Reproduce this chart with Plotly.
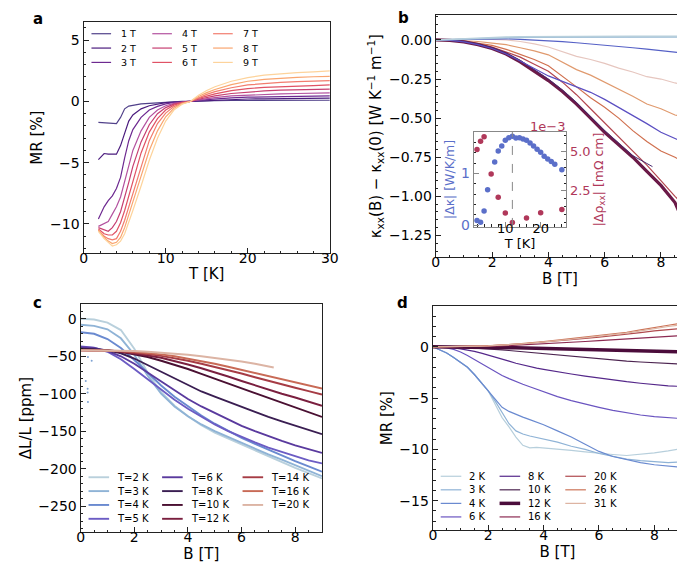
import plotly.graph_objects as go

W, H = 685, 564
FONT = "DejaVu Sans"

# ---------------- panel a : MR vs T for several fields ----------------
a_T = [1.8, 2.5, 3.0, 3.5, 4.0, 4.5, 5.0, 5.5, 6.0, 7.0, 8.0, 9.0, 10.0, 11.0, 12.0,
       13.0, 14.0, 15.0, 16.0, 18.0, 20.0, 22.0, 24.0, 26.0, 28.0, 30.0]
a_labels = ["1 T", "2 T", "3 T", "4 T", "5 T", "6 T", "7 T", "8 T", "9 T"]
a_mr_1T = [-1.7, -1.75, -1.75, -1.8, -1.8, -1.3, -0.6, -0.38, -0.3, -0.2, -0.15, -0.1, -0.05, -0.02, 0.0, 0.0, 0.03, 0.05, 0.06, 0.08, 0.08, 0.1, 0.08, 0.1, 0.1, 0.1]
a_mr_2T = [-4.75, -4.25, -4.3, -4.3, -4.3, -3.6, -2.5, -1.6, -1.1, -0.6, -0.35, -0.2, -0.1, -0.05, -0.02, 0.0, 0.05, 0.1, 0.12, 0.16, 0.2, 0.22, 0.22, 0.25, 0.25, 0.27]
a_mr_3T = [-9.6, -8.6, -8.1, -7.7, -7.1, -6.2, -4.6, -3.2, -2.3, -1.3, -0.7, -0.4, -0.2, -0.08, -0.03, 0.0, 0.08, 0.15, 0.22, 0.3, 0.35, 0.38, 0.4, 0.42, 0.45, 0.45]
a_mr_4T = [-10.2, -10.0, -9.8, -9.2, -8.6, -7.8, -6.6, -5.2, -4.0, -2.4, -1.3, -0.7, -0.35, -0.15, -0.05, 0.0, 0.12, 0.22, 0.32, 0.45, 0.52, 0.58, 0.62, 0.65, 0.68, 0.7]
a_mr_5T = [-10.3, -10.5, -10.6, -10.3, -9.8, -9.0, -7.9, -6.6, -5.3, -3.3, -1.9, -1.0, -0.5, -0.22, -0.08, 0.0, 0.18, 0.32, 0.45, 0.65, 0.78, 0.86, 0.92, 0.96, 1.0, 1.0]
a_mr_6T = [-10.4, -10.8, -10.9, -10.9, -10.6, -9.9, -8.9, -7.7, -6.4, -4.2, -2.5, -1.4, -0.7, -0.3, -0.1, 0.0, 0.25, 0.45, 0.62, 0.88, 1.05, 1.15, 1.22, 1.28, 1.3, 1.35]
a_mr_7T = [-10.5, -11.0, -11.2, -11.3, -11.2, -10.6, -9.7, -8.6, -7.4, -5.2, -3.2, -1.8, -0.95, -0.42, -0.14, 0.0, 0.32, 0.58, 0.8, 1.12, 1.35, 1.48, 1.56, 1.62, 1.66, 1.7]
a_mr_8T = [-10.5, -11.1, -11.4, -11.6, -11.5, -11.1, -10.3, -9.3, -8.2, -6.1, -4.0, -2.4, -1.25, -0.55, -0.18, 0.0, 0.4, 0.72, 0.98, 1.38, 1.65, 1.8, 1.9, 1.97, 2.02, 2.05]
a_mr_9T = [-10.6, -11.2, -11.5, -11.8, -11.7, -11.4, -10.8, -9.9, -8.9, -6.9, -4.8, -3.0, -1.6, -0.7, -0.22, 0.0, 0.5, 0.9, 1.2, 1.65, 1.95, 2.15, 2.28, 2.35, 2.42, 2.5]
a_series = [a_mr_1T, a_mr_2T, a_mr_3T, a_mr_4T, a_mr_5T, a_mr_6T, a_mr_7T, a_mr_8T, a_mr_9T]
a_colors = ["#51418a", "#4b1c7e", "#6d2990", "#b3529f", "#c63f71", "#e05265", "#f27c6e", "#f9a56f", "#fdd39b"]

# ---------------- panel b : thermal conductivity vs B ----------------
b_B = [0, 0.5, 1, 1.5, 2, 2.5, 3, 3.5, 4, 4.5, 5, 5.5, 6, 6.5, 7, 7.5, 8, 8.5, 9]
b_k_2K = [0, 0.004, 0.01, 0.014, 0.017, 0.019, 0.02, 0.021, 0.021, 0.022, 0.022, 0.022, 0.022, 0.023, 0.023, 0.023, 0.022, 0.023, 0.023]
b_k_3K = [0, 0.003, 0.007, 0.01, 0.013, 0.015, 0.016, 0.017, 0.017, 0.018, 0.018, 0.018, 0.019, 0.019, 0.019, 0.019, 0.02, 0.02, 0.02]
b_k_4K = [0, 0.002, 0.005, 0.007, 0.008, 0.007, 0.004, 0.0, -0.005, -0.011, -0.018, -0.025, -0.033, -0.041, -0.05, -0.059, -0.068, -0.078, -0.088]
b_k_6K = [0, -0.003, -0.012, -0.03, -0.055, -0.09, -0.135, -0.185, -0.23, -0.265, -0.298, -0.335, -0.38, -0.43, -0.48, -0.535, -0.59, -0.63, -0.67]
b_B_8K = [0, 0.5, 1, 1.5, 2, 2.5, 3, 3.5, 4, 4.5, 5, 5.5, 6, 6.5, 7, 7.5, 7.7]
b_k_8K = [0, -0.002, -0.01, -0.026, -0.05, -0.083, -0.13, -0.19, -0.25, -0.32, -0.4, -0.49, -0.58, -0.66, -0.74, -0.79, -0.81]
b_k_12K = [0, -0.003, -0.012, -0.03, -0.055, -0.09, -0.14, -0.2, -0.26, -0.33, -0.41, -0.5, -0.59, -0.67, -0.75, -0.84, -0.93, -1.04, -1.25]
b_k_16K = [0, -0.002, -0.01, -0.025, -0.045, -0.075, -0.11, -0.155, -0.2, -0.27, -0.35, -0.44, -0.53, -0.62, -0.71, -0.8, -0.9, -1.0, -1.09]
b_k_20K = [0, 0, -0.008, -0.02, -0.035, -0.06, -0.09, -0.125, -0.165, -0.23, -0.3, -0.37, -0.43, -0.5, -0.58, -0.65, -0.71, -0.75, -0.8]
b_k_26K = [0, 0, -0.005, -0.01, -0.02, -0.03, -0.05, -0.07, -0.095, -0.14, -0.19, -0.225, -0.27, -0.31, -0.36, -0.41, -0.44, -0.48, -0.5]
b_k_31K = [0, 0.004, 0.006, 0.006, 0.004, 0.0, -0.01, -0.025, -0.045, -0.075, -0.105, -0.125, -0.15, -0.18, -0.205, -0.235, -0.25, -0.275, -0.29]
# (x, y, colour, width) in drawing order
b_traces = [
    (b_B, b_k_31K, "#e6c6bf", 1.2),
    (b_B, b_k_26K, "#e09a6e", 1.2),
    (b_B, b_k_20K, "#d0704f", 1.2),
    (b_B, b_k_16K, "#b3464f", 1.2),
    (b_B, b_k_12K, "#6b1a48", 3.2),
    (b_B_8K, b_k_8K, "#4a2c70", 1.0),
    (b_B, b_k_6K, "#5b4fc2", 1.2),
    (b_B, b_k_4K, "#5560c6", 1.2),
    (b_B, b_k_3K, "#9dbdd8", 1.6),
    (b_B, b_k_2K, "#b7cfdc", 1.6),
]

# inset of panel b
ins_T_kappa = [2, 3, 4, 5, 7, 8, 9, 10, 11, 12, 13, 14, 15, 16, 17, 18, 19, 20, 21, 22, 23, 24, 26]
ins_dkappa = [0.092, 0.054, 0.272, 0.686, 1.222, 1.433, 1.529, 1.638, 1.690, 1.715, 1.682, 1.690,
              1.663, 1.638, 1.586, 1.529, 1.466, 1.408, 1.331, 1.280, 1.230, 1.178, 1.069]
ins_T_rho = [2, 3, 4, 6, 8, 10, 12, 16, 20, 26]
ins_drho = [5.14, 5.66, 5.94, 3.57, 2.10, 1.09, 0.50, 0.78, 1.11, 1.32]   # x 1e-3 mOhm cm
ins_T_peak = 12

# ---------------- panel c : magnetostriction ----------------
c_B = [0, 0.5, 1, 1.5, 2, 2.5, 3, 3.5, 4, 4.5, 5, 5.5, 6, 6.5, 7, 7.5, 8, 8.5, 9]
c_B_20K = [0, 0.5, 1, 1.5, 2, 2.5, 3, 3.5, 4, 4.5, 5, 5.5, 6, 6.5, 7, 7.2]
c_labels = ["T=2 K", "T=3 K", "T=4 K", "T=5 K", "T=6 K", "T=8 K", "T=10 K", "T=12 K", "T=14 K", "T=16 K", "T=20 K"]
c_dl_2K = [0, -1, -5, -15, -40, -72, -98, -116, -130, -142, -152, -160, -168, -176, -184, -191, -199, -206, -213]
c_dl_3K = [-8, -9.5, -14, -26, -48, -76, -100, -117, -130, -141, -150, -158, -166, -174, -181, -188, -195, -202, -210]
c_dl_4K = [-18, -20, -27, -39, -55, -72, -89, -104, -117, -129, -140, -150, -159, -167, -175, -183, -190, -197, -204]
c_dl_5K = [-37, -38.5, -44, -54, -67, -81, -95, -108, -120, -131, -141, -150, -158, -165, -172, -178, -184, -189, -193]
c_dl_6K = [-38, -39, -43, -50, -60, -72, -84, -96, -107, -117, -126, -135, -143, -150, -157, -163, -169, -174, -179]
c_dl_8K = [-40, -40.5, -42, -46, -53, -62, -71, -80, -89, -97, -104, -111, -118, -125, -131, -137, -143, -149, -154]
c_dl_10K = [-41, -41, -42, -44, -47, -51, -56, -61, -67, -73.5, -80, -86, -92, -98.5, -105, -112, -119, -125, -131]
c_dl_12K = [-42, -42, -42.5, -44, -46, -49, -52, -56, -61, -66, -71, -77, -83, -89, -95, -100, -105, -111, -116]
c_dl_14K = [-42, -42, -42.3, -43.5, -45, -47, -49.5, -52.5, -56, -60, -64, -68.5, -73, -78, -83, -87.5, -92, -96.5, -101]
c_dl_16K = [-42, -42, -42, -43, -44, -45.5, -47.5, -50, -53, -56.5, -60, -64, -68, -72, -76.5, -80.5, -85, -89, -93]
c_dl_20K = [-42, -42, -42, -42.3, -43, -44, -45, -46.5, -48, -50, -52, -54.5, -57, -60, -63.5, -65]
c_series = [(c_B, c_dl_2K), (c_B, c_dl_3K), (c_B, c_dl_4K), (c_B, c_dl_5K), (c_B, c_dl_6K), (c_B, c_dl_8K),
            (c_B, c_dl_10K), (c_B, c_dl_12K), (c_B, c_dl_14K), (c_B, c_dl_16K), (c_B_20K, c_dl_20K)]
c_colors = ["#b9d0dc", "#8fb3d6", "#6a8ad0", "#6c5cc4", "#5a3a9e", "#3a1e52", "#4a1032", "#7a1f3f", "#a63c45", "#c86a56", "#dcb4a4"]
c_stray_B = [0.27, 0.41, 0.19, 0.26, 0.26, 0.27]
c_stray_dl = [-51, -56, -83, -93.5, -98.3, -111]

# ---------------- panel d : MR vs B ----------------
d_B = [0, 0.25, 0.5, 0.75, 1, 1.25, 1.5, 1.75, 2, 2.25, 2.5, 2.75, 3, 3.25, 3.5, 3.75, 4,
       4.5, 5, 5.5, 6, 6.5, 7, 7.5, 8, 8.5, 9]
d_labels = ["2 K", "3 K", "4 K", "6 K", "8 K", "10 K", "12 K", "16 K", "20 K", "26 K", "31 K"]
d_mr_2K = [0, -0.3, -0.6, -1.05, -1.5, -2.0, -2.7, -3.5, -4.3, -5.6, -6.9, -7.8, -8.8, -9.6, -9.85, -9.8, -9.85, -9.95, -10.1, -10.25, -10.4, -10.5, -10.6, -10.5, -10.35, -10.15, -9.9]
d_mr_3K = [0, -0.3, -0.6, -1.05, -1.5, -2.0, -2.7, -3.5, -4.3, -5.3, -6.4, -7.5, -8.2, -8.5, -8.7, -8.85, -9.0, -9.3, -9.7, -10.0, -10.4, -10.7, -10.95, -11.1, -11.2, -11.3, -11.2]
d_mr_4K = [0, -0.3, -0.6, -1.05, -1.5, -2.0, -2.7, -3.5, -4.3, -5.2, -5.9, -6.3, -6.6, -6.85, -7.1, -7.35, -7.6, -8.2, -8.8, -9.5, -10.2, -10.7, -11.0, -11.3, -11.5, -11.65, -11.75]
d_mr_6K = [0, -0.03, -0.1, -0.25, -0.5, -0.85, -1.25, -1.65, -2.05, -2.45, -2.8, -3.1, -3.4, -3.65, -3.9, -4.15, -4.4, -4.85, -5.25, -5.6, -5.9, -6.2, -6.45, -6.65, -6.8, -6.9, -7.0]
d_mr_8K = [0, -0.01, -0.05, -0.1, -0.2, -0.3, -0.45, -0.62, -0.8, -1.0, -1.2, -1.4, -1.6, -1.78, -1.95, -2.08, -2.2, -2.45, -2.65, -2.85, -3.05, -3.25, -3.4, -3.55, -3.7, -3.8, -3.87]
d_mr_10K = [0, 0, -0.01, -0.03, -0.05, -0.08, -0.11, -0.15, -0.2, -0.25, -0.3, -0.36, -0.42, -0.48, -0.55, -0.61, -0.67, -0.8, -0.95, -1.08, -1.2, -1.3, -1.4, -1.48, -1.55, -1.62, -1.68]
d_mr_12K = [0, 0, 0, -0.01, -0.01, -0.02, -0.03, -0.04, -0.05, -0.06, -0.07, -0.08, -0.1, -0.12, -0.14, -0.16, -0.18, -0.22, -0.25, -0.28, -0.3, -0.33, -0.36, -0.4, -0.44, -0.47, -0.5]
d_mr_16K = [0, 0, 0, 0.01, 0.01, 0.02, 0.03, 0.04, 0.05, 0.07, 0.09, 0.12, 0.15, 0.19, 0.23, 0.27, 0.3, 0.38, 0.45, 0.52, 0.6, 0.68, 0.76, 0.85, 0.94, 1.02, 1.1]
d_mr_20K = [0, 0, 0.01, 0.02, 0.03, 0.04, 0.05, 0.07, 0.1, 0.13, 0.16, 0.2, 0.25, 0.3, 0.35, 0.4, 0.45, 0.57, 0.7, 0.82, 0.95, 1.08, 1.22, 1.38, 1.55, 1.68, 1.8]
d_mr_26K = [0, 0, 0.01, 0.02, 0.03, 0.04, 0.06, 0.08, 0.1, 0.13, 0.17, 0.22, 0.27, 0.32, 0.38, 0.44, 0.5, 0.65, 0.8, 0.95, 1.1, 1.25, 1.42, 1.65, 1.9, 2.1, 2.3]
d_mr_31K = [0, 0, 0.01, 0.02, 0.03, 0.04, 0.05, 0.07, 0.09, 0.12, 0.15, 0.2, 0.25, 0.3, 0.35, 0.4, 0.46, 0.6, 0.74, 0.88, 1.02, 1.17, 1.33, 1.55, 1.78, 1.98, 2.15]
d_series = [d_mr_2K, d_mr_3K, d_mr_4K, d_mr_6K, d_mr_8K, d_mr_10K, d_mr_12K, d_mr_16K, d_mr_20K, d_mr_26K, d_mr_31K]
d_colors = ["#b7cfdc", "#8fb3d6", "#6a8ad0", "#6a54c0", "#55288a", "#4c2450", "#4b0c3b", "#8c2a52", "#b04a4e", "#cc7458", "#ddb4a2"]
d_widths = [1.2, 1.2, 1.2, 1.2, 1.2, 1.2, 3.5, 1.2, 1.2, 1.2, 1.2]


# ---------------- helpers ----------------
def fx(p):
    return p / W


def fy(p):
    return 1 - p / H


fig = go.Figure()

for lab, ys, col in zip(a_labels, a_series, a_colors):
    fig.add_trace(go.Scatter(x=a_T, y=ys, mode="lines", name=lab, line=dict(color=col, width=1.2),
                             xaxis="x", yaxis="y", showlegend=False))

for xs, ys, col, w in b_traces:
    fig.add_trace(go.Scatter(x=xs, y=ys, mode="lines", line=dict(color=col, width=w),
                             xaxis="x2", yaxis="y2", showlegend=False))

fig.add_trace(go.Scatter(x=ins_T_kappa, y=ins_dkappa, mode="markers", name="|Δκ|",
                         marker=dict(color="#5b6fc9", size=5.5), xaxis="x5", yaxis="y5", showlegend=False))
fig.add_trace(go.Scatter(x=ins_T_rho, y=ins_drho, mode="markers", name="|Δρxx|",
                         marker=dict(color="#b0385a", size=5.5), xaxis="x5", yaxis="y6", showlegend=False))

for lab, (xs, ys), col in zip(c_labels, c_series, c_colors):
    fig.add_trace(go.Scatter(x=xs, y=ys, mode="lines", name=lab, line=dict(color=col, width=1.9),
                             xaxis="x3", yaxis="y3", showlegend=False))
fig.add_trace(go.Scatter(x=c_stray_B, y=c_stray_dl, mode="markers", marker=dict(color="#7fa3d3", size=2),
                         xaxis="x3", yaxis="y3", showlegend=False))

for lab, ys, col, w in zip(d_labels, d_series, d_colors, d_widths):
    fig.add_trace(go.Scatter(x=d_B, y=ys, mode="lines", name=lab, line=dict(color=col, width=w),
                             xaxis="x4", yaxis="y4", showlegend=False))

LC = "#222222"


def axis(domain, rng, dtick, minor, anchor, ttl, tick0=0, **kw):
    d = dict(domain=domain, range=rng, dtick=dtick, tick0=tick0, anchor=anchor,
             showline=True, linecolor=LC, linewidth=1.3, mirror=True,
             ticks="inside", ticklen=5, tickwidth=1, tickcolor=LC,
             showgrid=False, zeroline=False,
             tickfont=dict(family=FONT, size=14, color="black"),
             title=dict(text=ttl, font=dict(family=FONT, size=15, color="black"), standoff=3),
             minor=dict(ticks="inside", ticklen=2.5, tickwidth=1, tickcolor=LC, dtick=minor, showgrid=False))
    d.update(kw)
    return d


XS = dict(ticklabelstandoff=-8)

fig.update_layout(
    width=W, height=H, margin=dict(l=0, r=0, t=0, b=0),
    paper_bgcolor="white", plot_bgcolor="white",
    font=dict(family=FONT, color="black"),
    xaxis=axis([fx(73), fx(324)], [0, 30], 10, 2, "y", "T [K]", **XS),
    yaxis=axis([fy(248), fy(14)], [-12.4, 6.5], 5, 1, "x", "MR [%]"),
    xaxis2=axis([fx(432), 1.0], [0, 8.82], 2, 0.5, "y2", "B [T]", **XS),
    yaxis2=axis([fy(252), fy(7)], [-1.39, 0.16], 0.25, 0.05, "x2",
                "κ<sub>xx</sub>(B) − κ<sub>xx</sub>(0) [W K<sup>−1</sup> m<sup>−1</sup>]", tickformat=".2f"),
    xaxis3=axis([fx(70), fx(316)], [0, 9], 2, 0.5, "y3", "B [T]", **XS),
    yaxis3=axis([fy(530), fy(299)], [-285, 20], 50, 10, "x3", "ΔL/L [ppm]"),
    xaxis4=axis([fx(429), fx(683)], [0, 9], 2, 0.5, "y4", "B [T]", **XS),
    yaxis4=axis([fy(528), fy(301)], [-17.9, 4.0], 5, 1, "x4", "MR [%]"),
    xaxis5=axis([fx(470.7), fx(565)], [1.08, 27.25], 10, 2, "y5", "T [K]",
                linecolor="#888888", linewidth=1.2, tickcolor="#888888", ticklabelstandoff=-11,
                tickfont=dict(family=FONT, size=13, color="black"),
                title=dict(text="T [K]", font=dict(family=FONT, size=13, color="black"), standoff=0)),
    yaxis5=axis([fy(221.3), fy(125.3)], [-0.035, 1.80], 1, 0.2, "x5", "|Δκ| [W/K/m]",
                mirror=False, linecolor="#888888", linewidth=1.2, tickcolor="#888888",
                tickfont=dict(family=FONT, size=14, color="#5b6fc9"),
                title=dict(text="|Δκ| [W/K/m]", font=dict(family=FONT, size=12.5, color="#5b6fc9"), standoff=3)),
    yaxis6=axis([fy(221.3), fy(125.3)], [0.21, 6.25], 2.5, 0.5, "x5", "|Δρ<sub>xx</sub>| [mΩ cm]",
                overlaying="y5", side="right", mirror=False, linecolor="#888888", linewidth=1.2,
                tickcolor="#888888", tickformat=".1f",
                tickfont=dict(family=FONT, size=13, color="#b0385a"),
                title=dict(text="|Δρ<sub>xx</sub>| [mΩ cm]", font=dict(family=FONT, size=12.5, color="#b0385a"), standoff=3)),
)

shapes = [dict(type="line", xref="x5", yref="y5 domain", x0=ins_T_peak, x1=ins_T_peak, y0=0, y1=1,
               line=dict(color="#888888", width=1, dash="dash"))]
annotations = []

# panel letters
for letter, px, py in [("a", 27, 11), ("b", 399, 10), ("c", 26, 298), ("d", 398, 298)]:
    annotations.append(dict(text="<b>%s</b>" % letter, x=fx(px), y=fy(py), xref="paper", yref="paper",
                            showarrow=False, xanchor="center", yanchor="middle",
                            font=dict(family=FONT, size=15, color="black")))
annotations.append(dict(text="1e−3", x=fx(566), y=fy(120), xref="paper", yref="paper", showarrow=False,
                        xanchor="right", yanchor="middle", font=dict(family=FONT, size=13, color="#b0385a")))


def add_legend(labels, colors, widths, col_x, row_y0, row_dy, nrows, line_len, text_dx, fsize):
    for i, (lab, col, w) in enumerate(zip(labels, colors, widths)):
        c, r = divmod(i, nrows)
        x0 = col_x[c]
        y = row_y0 + r * row_dy
        shapes.append(dict(type="line", xref="paper", yref="paper", x0=fx(x0), x1=fx(x0 + line_len),
                           y0=fy(y), y1=fy(y), line=dict(color=col, width=w)))
        annotations.append(dict(text=lab, x=fx(x0 + text_dx), y=fy(y), xref="paper", yref="paper",
                                showarrow=False, xanchor="left", yanchor="middle",
                                font=dict(family=FONT, size=fsize, color="black")))


add_legend(a_labels, a_colors, [1.2] * 9, [81, 143, 205], 26, 14.5, 3, 20, 28, 9.5)
add_legend(c_labels, c_colors, [1.9] * 11, [78, 153, 235], 474.3, 14, 4, 21, 27, 10)
add_legend(d_labels, d_colors, d_widths, [437, 497, 564], 473.3, 13.7, 4, 21, 27, 10)

fig.update_layout(shapes=shapes, annotations=annotations)
fig.write_html("out.html")
